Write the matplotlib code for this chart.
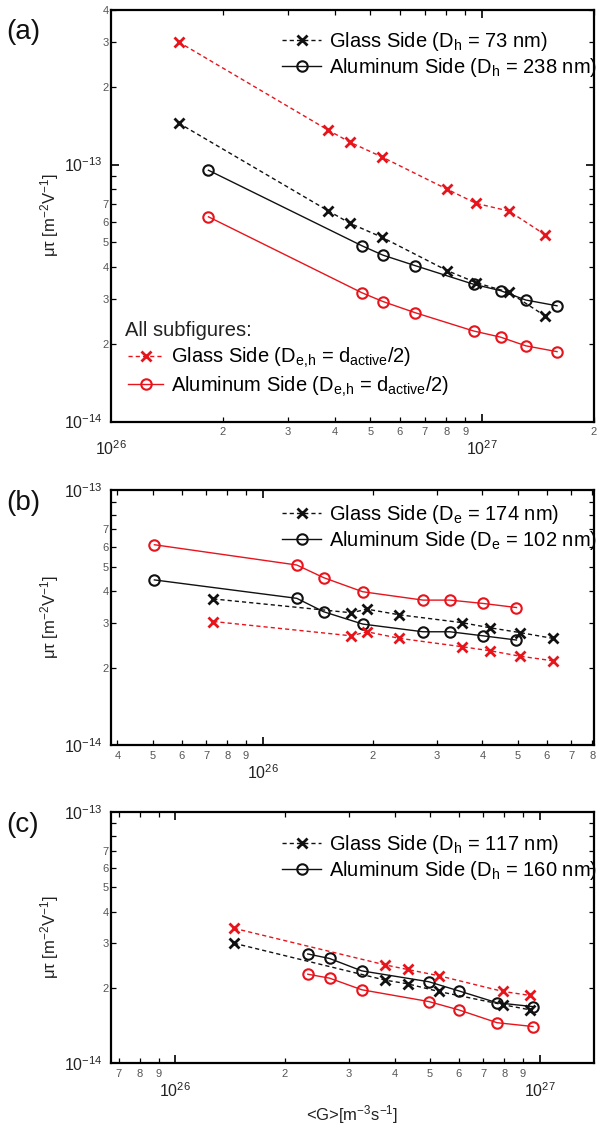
import numpy as np
import matplotlib
matplotlib.use("Agg")
import matplotlib.pyplot as plt
from matplotlib.ticker import LogLocator, FuncFormatter

plt.rcParams["font.family"] = ["Liberation Sans", "DejaVu Sans"]
plt.rcParams["mathtext.fontset"] = "custom"
plt.rcParams["mathtext.rm"] = "Liberation Sans"
plt.rcParams["mathtext.it"] = "Liberation Sans:italic"
plt.rcParams["mathtext.bf"] = "Liberation Sans:bold"

# ---------------- data: <G> [m^-3 s^-1] and mu*tau [m^-2 V^-1] ----------------
# (a) hole-side fits
G_glass_a = [1.52e26, 3.85e26, 4.41e26, 5.37e26, 8.06e26, 9.63e26, 1.18e27, 1.48e27]
mu_glass_a = [1.45e-13, 6.6e-14, 5.9e-14, 5.21e-14, 3.86e-14, 3.47e-14, 3.18e-14, 2.57e-14]
mu_glass_half_a = [3.0e-13, 1.36e-13, 1.22e-13, 1.07e-13, 8.0e-14, 7.06e-14, 6.59e-14, 5.32e-14]
G_al_a = [1.83e26, 4.74e26, 5.40e26, 6.6e26, 9.48e26, 1.12e27, 1.31e27, 1.59e27]
mu_al_a = [9.5e-14, 4.83e-14, 4.44e-14, 4.04e-14, 3.42e-14, 3.23e-14, 2.97e-14, 2.82e-14]
mu_al_half_a = [6.26e-14, 3.17e-14, 2.93e-14, 2.65e-14, 2.25e-14, 2.13e-14, 1.97e-14, 1.87e-14]

# (b) electron-side fits
G_glass_b = [7.32e25, 1.75e26, 1.93e26, 2.37e26, 3.51e26, 4.21e26, 5.07e26, 6.23e26]
mu_glass_b = [3.74e-14, 3.30e-14, 3.41e-14, 3.24e-14, 3.02e-14, 2.88e-14, 2.76e-14, 2.62e-14]
mu_glass_half_b = [3.05e-14, 2.68e-14, 2.78e-14, 2.62e-14, 2.43e-14, 2.34e-14, 2.23e-14, 2.14e-14]
G_al_b = [5.05e25, 1.24e26, 1.47e26, 1.88e26, 2.75e26, 3.26e26, 4.02e26, 4.96e26]
mu_al_b = [4.44e-14, 3.76e-14, 3.33e-14, 2.98e-14, 2.78e-14, 2.78e-14, 2.68e-14, 2.58e-14]
mu_al_half_b = [6.1e-14, 5.08e-14, 4.53e-14, 3.99e-14, 3.70e-14, 3.70e-14, 3.59e-14, 3.46e-14]

# (c) hole-side fits, second device
G_glass_c = [1.45e26, 3.77e26, 4.34e26, 5.28e26, 7.93e26, 9.43e26]
mu_glass_c = [3.0e-14, 2.14e-14, 2.07e-14, 1.93e-14, 1.71e-14, 1.63e-14]
mu_glass_half_c = [3.44e-14, 2.46e-14, 2.36e-14, 2.23e-14, 1.93e-14, 1.86e-14]
G_al_c = [2.31e26, 2.65e26, 3.25e26, 4.96e26, 6.0e26, 7.64e26, 9.59e26]
mu_al_c = [2.72e-14, 2.61e-14, 2.33e-14, 2.11e-14, 1.94e-14, 1.74e-14, 1.68e-14]
mu_al_half_c = [2.26e-14, 2.18e-14, 1.96e-14, 1.76e-14, 1.63e-14, 1.45e-14, 1.40e-14]

legend_a = ["Glass Side (D$_\\mathrm{h}$ = 73 nm)", "Aluminum Side (D$_\\mathrm{h}$ = 238 nm)"]
legend_b = ["Glass Side (D$_\\mathrm{e}$ = 174 nm)", "Aluminum Side (D$_\\mathrm{e}$ = 102 nm)"]
legend_c = ["Glass Side (D$_\\mathrm{h}$ = 117 nm)", "Aluminum Side (D$_\\mathrm{h}$ = 160 nm)"]
legend_half = ["Glass Side (D$_\\mathrm{e{,}h}$ = d$_\\mathrm{active}$/2)",
               "Aluminum Side (D$_\\mathrm{e{,}h}$ = d$_\\mathrm{active}$/2)"]

RED = "#e8141c"
BLACK = "#111111"
DASH = (0, (3.0, 2.2))
LEG_FS = 14.5

W, H = 598, 1136
fig = plt.figure(figsize=(W / 100, H / 100), dpi=100)


def box(l, t, r, b):
    return [l / W, 1 - b / H, (r - l) / W, (b - t) / H]


def mantissa(v):
    return int(round(v / 10 ** np.floor(np.log10(v) + 1e-9)))


def make_formatters(lo, hi, max_minor):
    def inside(v):
        return lo * (1 - 1e-6) <= v <= hi * (1 + 1e-6)

    def major(v, pos):
        if not inside(v):
            return ""
        return "$10^{%d}$" % int(round(np.log10(v)))

    def minor(v, pos):
        if not inside(v):
            return ""
        m = mantissa(v)
        return str(m) if 2 <= m <= max_minor else ""

    return FuncFormatter(major), FuncFormatter(minor)


def style_axis(ax, xlim, ylim):
    ax.set_xscale("log")
    ax.set_yscale("log")
    ax.set_xlim(*xlim)
    ax.set_ylim(*ylim)
    for sp in ax.spines.values():
        sp.set_linewidth(1.6)
    for axis, lim, max_minor in ((ax.xaxis, xlim, 9), (ax.yaxis, ylim, 7)):
        fmaj, fmin = make_formatters(lim[0], lim[1], max_minor)
        axis.set_major_locator(LogLocator(base=10, numticks=30))
        axis.set_minor_locator(LogLocator(base=10, subs=np.arange(2, 10), numticks=30))
        axis.set_major_formatter(fmaj)
        axis.set_minor_formatter(fmin)
    ax.tick_params(which="both", direction="in", top=True, right=True)
    ax.tick_params(which="major", length=6, width=1.2)
    ax.tick_params(which="minor", length=3.5, width=0.9)
    ax.tick_params(axis="x", which="major", pad=13, labelsize=11.5, labelcolor="#222222")
    ax.tick_params(axis="x", which="minor", pad=4, labelsize=8, labelcolor="#555555")
    ax.tick_params(axis="y", which="major", pad=6, labelsize=11.5, labelcolor="#222222")
    ax.tick_params(axis="y", which="minor", pad=1.5, labelsize=8, labelcolor="#555555")


def draw_set(ax, Gg, mg, Ga, ma, color):
    lg, = ax.plot(Gg, mg, ls=DASH, color=color, lw=1.0, marker="x", ms=7.5, mew=2.0)
    la, = ax.plot(Ga, ma, ls="-", color=color, lw=1.0, marker="o", ms=7.5,
                  mfc="none", mew=1.5)
    return lg, la


def top_legend(ax, handles, labels, gap_px):
    # gap_px: distance in pixels from the top spine to the legend's upper edge
    height_px = ax.get_position().height * H
    return ax.legend(handles, labels, loc="upper right",
                     bbox_to_anchor=(1.006, 1 - gap_px / height_px),
                     frameon=False, fontsize=LEG_FS, handlelength=1.9, handletextpad=0.4,
                     labelspacing=0.16, borderpad=0, borderaxespad=0)


# ---------------- panel (a) ----------------
ax_a = fig.add_axes(box(111, 9.8, 594, 421.5))
style_axis(ax_a, (1e26, 2e27), (1e-14, 4e-13))
h_black = draw_set(ax_a, G_glass_a, mu_glass_a, G_al_a, mu_al_a, BLACK)
h_red = draw_set(ax_a, G_glass_a, mu_glass_half_a, G_al_a, mu_al_half_a, RED)
leg_half = ax_a.legend(h_red, legend_half, loc="upper left",
                       bbox_to_anchor=((128 - 111) / 483, (421.5 - 346) / 411.7),
                       frameon=False, fontsize=LEG_FS, handlelength=1.75, handletextpad=0.4,
                       labelspacing=0.22, borderpad=0, borderaxespad=0)
ax_a.add_artist(leg_half)
top_legend(ax_a, h_black, legend_a, 20)
fig.text(125 / W, 1 - 330 / H, "All subfigures:", fontsize=LEG_FS, va="center",
         ha="left", color="#222222")

# ---------------- panel (b) ----------------
ax_b = fig.add_axes(box(111, 490, 594, 745))
style_axis(ax_b, (3.84e25, 8.09e26), (1e-14, 1e-13))
hb = draw_set(ax_b, G_glass_b, mu_glass_b, G_al_b, mu_al_b, BLACK)
draw_set(ax_b, G_glass_b, mu_glass_half_b, G_al_b, mu_al_half_b, RED)
top_legend(ax_b, hb, legend_b, 13)

# ---------------- panel (c) ----------------
ax_c = fig.add_axes(box(111, 811.7, 594, 1063.3))
style_axis(ax_c, (6.66e25, 1.41e27), (1e-14, 1e-13))
hc = draw_set(ax_c, G_glass_c, mu_glass_c, G_al_c, mu_al_c, BLACK)
draw_set(ax_c, G_glass_c, mu_glass_half_c, G_al_c, mu_al_half_c, RED)
top_legend(ax_c, hc, legend_c, 21)
ax_c.set_xlabel("<G>[m$^{-3}$s$^{-1}$]", fontsize=12, labelpad=2, color="#222222")

# ---------------- axis titles and panel tags ----------------
ylab = "\u03bc\u03c4 [m$^{-2}$V$^{-1}$]"
for top, bot in ((9.8, 421.5), (490, 745), (811.7, 1063.3)):
    fig.text(50 / W, 1 - (top + bot) / 2 / H, ylab, rotation=90, fontsize=12,
             ha="center", va="center", color="#222222")

for tag, yc in (("(a)", 32), ("(b)", 503), ("(c)", 825)):
    fig.text(6 / W, 1 - yc / H, tag, fontsize=20, ha="left", va="center",
             color="#111111")

fig.savefig("out.png", dpi=100)
